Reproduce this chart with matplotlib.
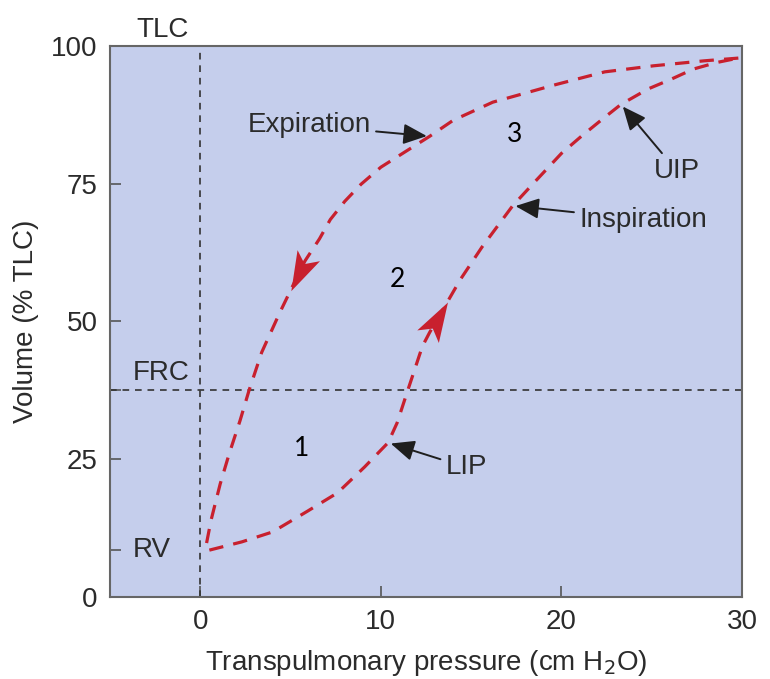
import matplotlib
matplotlib.use("Agg")
import numpy as np
import matplotlib.pyplot as plt
from matplotlib.path import Path
from matplotlib.markers import MarkerStyle
from matplotlib.transforms import Affine2D

# pressure-volume loop (cm H2O, % TLC)
insp_x = [0.5, 2.3, 4.0, 5.9, 7.6, 9.1, 10.4, 10.9, 11.5, 12.3, 12.7, 13.5, 14.4, 15.6, 17.3, 18.6,
          20.0, 21.1, 22.3, 23.3, 24.8, 26.1, 27.3, 28.6, 29.8]
insp_y = [8.5, 10.0, 11.8, 15.5, 18.9, 23.6, 28.0, 31.6, 37.6, 45.5, 48.0, 52.5, 57.6, 63.5, 71.0, 75.6,
          80.5, 83.6, 86.8, 89.4, 92.2, 94.0, 95.8, 97.0, 97.8]
exp_x = [29.8, 27.9, 25.1, 22.4, 19.7, 16.2, 14.0, 12.7, 11.3, 10.0, 8.9, 8.0, 7.2, 6.6, 5.8, 5.2,
         4.4, 3.9, 3.4, 2.7, 2.2, 1.6, 1.1, 0.6, 0.3, 0.5]
exp_y = [97.8, 97.3, 96.4, 95.3, 93.0, 89.8, 86.5, 83.6, 80.7, 78.0, 74.9, 71.8, 68.5, 65.0, 61.0, 57.0,
         51.6, 48.0, 44.4, 37.5, 32.0, 26.0, 20.5, 14.0, 9.0, 8.5]

frc = 37.5
rv = 8.5
yticks = [0, 25, 50, 75, 100]
xticks = [0, 10, 20, 30]

red = "#c8202e"
txt = "#2b2b2b"
fs = 20
plt.rcParams['font.family'] = ['Liberation Sans', 'DejaVu Sans']

fig = plt.figure(figsize=(7.7, 6.79), dpi=100)
ax = fig.add_axes([0.1429, 0.1208, 0.8207, 0.8115])
ax.set_facecolor("#c5ceec")
ax.set_xlim(-5, 30)
ax.set_ylim(0, 100)

# reference lines
ax.axvline(0, color="#333333", lw=1.2, ls=(0, (4, 3.5)))
ax.axhline(frc, color="#333333", lw=1.2, ls=(0, (4, 3.5)))

ax.plot(insp_x, insp_y, color=red, lw=2.3, ls=(0, (4.5, 3.2)))
ax.plot(exp_x, exp_y, color=red, lw=2.3, ls=(0, (4.5, 3.2)))

# notched arrow heads showing the direction round the loop
head = Path([(1.0, 0.0), (-0.9, 0.6), (-0.45, 0.0), (-0.9, -0.6), (1.0, 0.0)],
            [Path.MOVETO, Path.LINETO, Path.LINETO, Path.LINETO, Path.CLOSEPOLY])

def direction_head(xs, ys, i):
    p0 = ax.transData.transform((xs[i], ys[i]))
    p1 = ax.transData.transform((xs[i + 1], ys[i + 1]))
    ang = np.degrees(np.arctan2(p1[1] - p0[1], p1[0] - p0[0]))
    m = MarkerStyle(head, transform=Affine2D().rotate_deg(ang))
    ax.plot([(xs[i] + xs[i + 1]) / 2], [(ys[i] + ys[i + 1]) / 2], marker=m,
            ms=30, color=red, mec=red, mew=0, ls="none")

direction_head(insp_x, insp_y, 10)
direction_head(exp_x, exp_y, 14)

# labelled arrows
arr = dict(arrowstyle="-|>,head_length=0.8,head_width=0.35", color="#1e1e1e", lw=1.4,
           shrinkA=2, shrinkB=2, mutation_scale=18)
ax.annotate("Expiration", xy=(exp_x[7], exp_y[7]), xytext=(2.6, 85.6), fontsize=fs, color=txt,
            ha="left", va="center", arrowprops=arr)
ax.annotate("Inspiration", xy=(insp_x[14], insp_y[14]), xytext=(21.0, 68.5), fontsize=fs, color=txt,
            ha="left", va="center", arrowprops=arr)
ax.annotate("UIP", xy=(insp_x[19], insp_y[19]), xytext=(26.4, 77.3), fontsize=fs, color=txt,
            ha="center", va="center", arrowprops=arr)
ax.annotate("LIP", xy=(insp_x[6], insp_y[6]), xytext=(13.6, 23.5), fontsize=fs, color=txt,
            ha="left", va="center", arrowprops=arr)

ax.text(5.6, 27, "1", fontsize=19, color="black", ha="center", va="center", family="Lato")
ax.text(10.9, 57.6, "2", fontsize=19, color="black", ha="center", va="center", family="Lato")
ax.text(17.4, 84, "3", fontsize=19, color="black", ha="center", va="center", family="Lato")

ax.text(-2.1, 100.6, "TLC", fontsize=fs, color=txt, ha="center", va="bottom")
ax.text(-3.75, frc + 0.8, "FRC", fontsize=fs, color=txt, ha="left", va="bottom")
ax.text(-3.75, rv, "RV", fontsize=fs, color=txt, ha="left", va="center")

ax.set_xticks(xticks)
ax.set_yticks(yticks)
ax.set_yticks([rv, frc], minor=True)
ax.tick_params(direction="in", length=8, width=1.2, color="#555555", labelsize=fs, labelcolor=txt)
ax.tick_params(axis="x", pad=9)
ax.tick_params(axis="y", pad=9)
ax.tick_params(which="minor", direction="in", length=8, width=1.2, color="#555555")
for s in ax.spines.values():
    s.set_color("#666666")
    s.set_linewidth(1.5)

ax.set_xlabel("Transpulmonary pressure (cm H$_2$O)", fontsize=fs, color=txt, labelpad=9)
ax.set_ylabel("Volume (% TLC)", fontsize=fs, color=txt, labelpad=9)

fig.savefig("out.png", dpi=100)
